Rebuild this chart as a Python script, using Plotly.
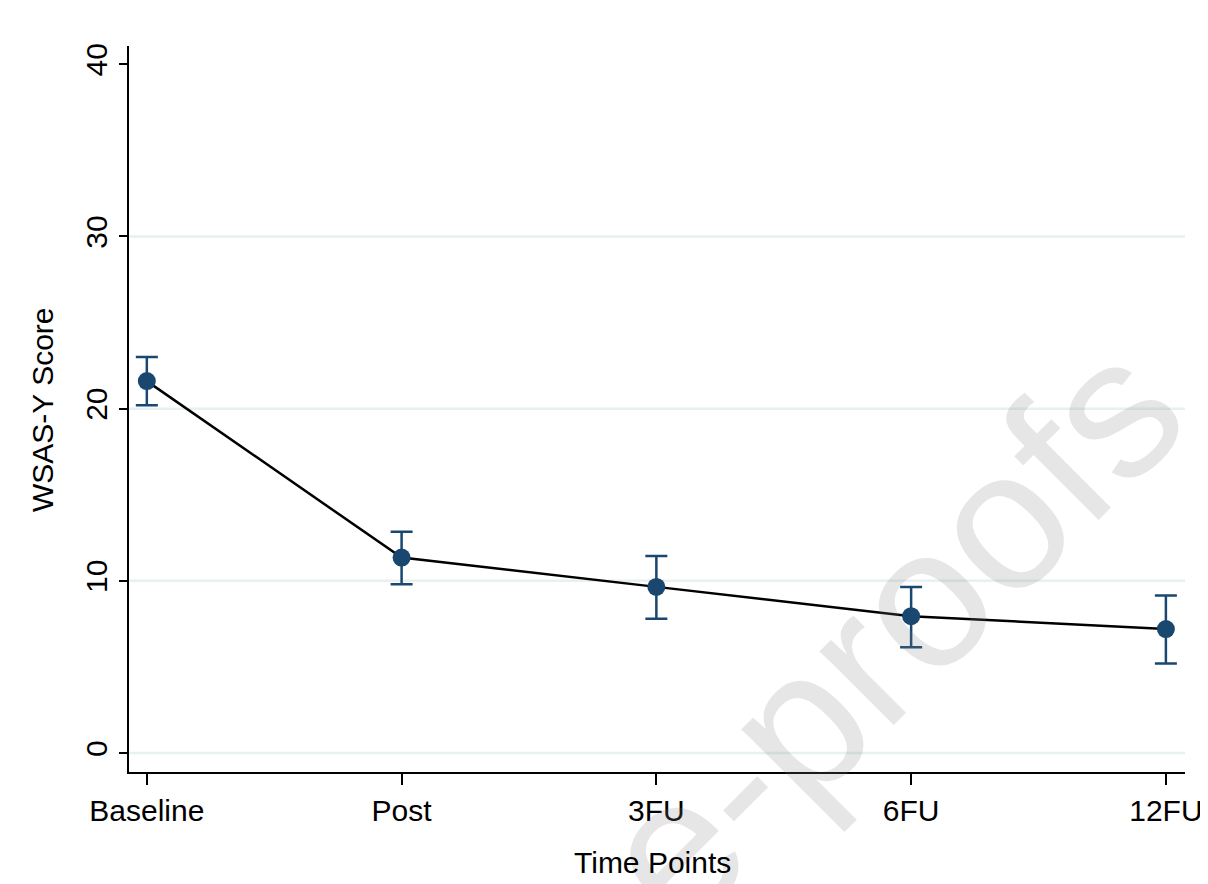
import plotly.graph_objects as go

categories = ["Baseline", "Post", "3FU", "6FU", "12FU"]
means = [21.6, 11.35, 9.65, 7.95, 7.2]
upper = [23.0, 12.85, 11.45, 9.65, 9.15]
lower = [20.2, 9.8, 7.8, 6.15, 5.2]
y_ticks = [0, 10, 20, 30, 40]
grid_values = [0, 10, 20, 30]

err_plus = [u - m for u, m in zip(upper, means)]
err_minus = [m - l for m, l in zip(means, lower)]

NAVY = "#1a476f"
FONT = "Liberation Sans, Arial, sans-serif"

fig = go.Figure()

fig.add_trace(go.Scatter(
    x=categories, y=means, mode="lines",
    line=dict(color="black", width=2.5),
    hoverinfo="skip", showlegend=False,
))
fig.add_trace(go.Scatter(
    x=categories, y=means, mode="markers",
    marker=dict(color=NAVY, size=18),
    error_y=dict(type="data", symmetric=False, array=err_plus, arrayminus=err_minus,
                 color=NAVY, thickness=2.5, width=11),
    showlegend=False,
))

for g in grid_values:
    fig.add_shape(type="line", xref="paper", yref="y", x0=0, x1=1, y0=g, y1=g,
                  line=dict(color="#e8f0f1", width=2.5), layer="below")

# watermark
fig.add_annotation(
    text="e-proofs", xref="paper", yref="paper", x=0.721, y=0.193,
    xanchor="center", yanchor="middle",
    showarrow=False, textangle=-45,
    font=dict(family=FONT, size=198, color="rgba(128,128,128,0.2)"),
)

# axis titles
fig.add_annotation(
    text="WSAS-Y Score", xref="paper", yref="paper", x=-0.0824, y=0.5,
    xanchor="center", yanchor="middle", textangle=-90, showarrow=False,
    font=dict(family=FONT, size=30, color="black"),
)
fig.add_annotation(
    text="Time Points", xref="paper", yref="paper", x=0.496, y=-0.124,
    xanchor="center", yanchor="middle", showarrow=False,
    font=dict(family=FONT, size=30, color="black"),
)

fig.update_layout(
    width=1200, height=876,
    margin=dict(l=121, r=23, t=38, b=112, autoexpand=False),
    paper_bgcolor="white", plot_bgcolor="white",
    font=dict(family=FONT, size=30, color="black"),
    xaxis=dict(
        type="category", range=[-0.07, 4.075], automargin=False,
        showline=True, linecolor="black", linewidth=1.5,
        ticks="outside", ticklen=11, tickwidth=1.5, tickcolor="black",
        showgrid=False, zeroline=False,
        tickfont=dict(size=30),
    ),
    yaxis=dict(
        range=[-1.1, 41.06], tickvals=y_ticks, automargin=False,
        showline=True, linecolor="black", linewidth=1.5,
        ticks="outside", ticklen=8, tickwidth=1.5, tickcolor="black",
        showgrid=False, zeroline=False, tickangle=-90,
        tickfont=dict(size=30),
    ),
)

fig.write_html("out.html")
